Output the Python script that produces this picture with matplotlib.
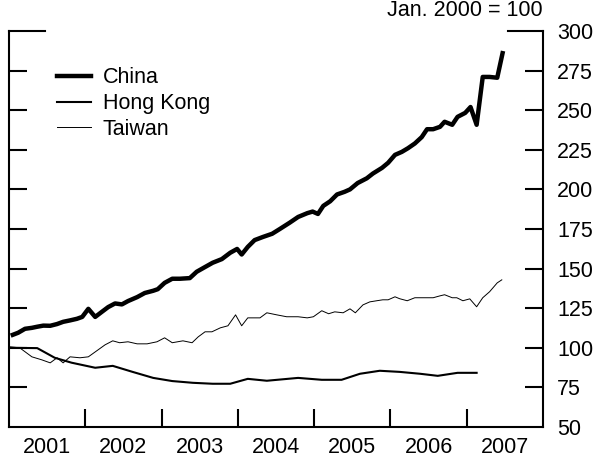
import numpy as np
import matplotlib
matplotlib.use("Agg")
import matplotlib.pyplot as plt

plt.rcParams['font.family'] = ['Liberation Sans', 'DejaVu Sans']

# China, monthly-ish points (decimal year, index)
china_x = [2001.05, 2001.12, 2001.21, 2001.30, 2001.37, 2001.45, 2001.54, 2001.63,
           2001.71, 2001.80, 2001.89, 2001.96, 2002.04, 2002.13, 2002.22, 2002.30,
           2002.39, 2002.48, 2002.56, 2002.68, 2002.78, 2002.89, 2002.95, 2003.04,
           2003.14, 2003.24, 2003.37, 2003.46, 2003.57, 2003.67, 2003.79, 2003.90,
           2003.99, 2004.05, 2004.13, 2004.22, 2004.33, 2004.45, 2004.55, 2004.68,
           2004.79, 2004.91, 2004.98, 2005.05, 2005.12, 2005.21, 2005.30, 2005.40,
           2005.47, 2005.57, 2005.69, 2005.77, 2005.89, 2005.97, 2006.06, 2006.15,
           2006.23, 2006.32, 2006.41, 2006.48, 2006.56, 2006.65, 2006.71, 2006.81,
           2006.88, 2006.98, 2007.05, 2007.13, 2007.21, 2007.30, 2007.40, 2007.47]
china = [108.2, 109.5, 112.0, 112.6, 113.3, 114.0, 113.9, 115.0,
         116.4, 117.3, 118.3, 119.5, 124.6, 119.5, 122.8, 125.7,
         128.0, 127.4, 129.5, 132.0, 134.6, 136.0, 137.0, 141.0,
         143.6, 143.6, 144.0, 148.0, 151.0, 153.7, 156.0, 160.0,
         162.4, 158.9, 163.7, 168.0, 170.0, 172.0, 175.0, 179.0,
         182.6, 185.0, 186.0, 184.5, 189.6, 192.5, 196.8, 198.5,
         200.0, 204.0, 207.0, 210.0, 213.6, 216.8, 221.8, 223.7,
         226.0, 229.0, 233.0, 238.0, 238.0, 239.5, 242.7, 240.8,
         245.8, 248.3, 252.0, 240.8, 271.0, 271.0, 270.5, 286.0]

hk_x = [2001.01, 2001.37, 2001.60, 2001.82, 2002.13, 2002.36, 2002.62, 2002.89,
        2003.14, 2003.41, 2003.67, 2003.90, 2004.13, 2004.38, 2004.79, 2005.10,
        2005.36, 2005.60, 2005.86, 2006.12, 2006.39, 2006.62, 2006.88, 2007.13]
hong_kong = [100.0, 99.8, 93.7, 90.6, 87.4, 88.6, 84.8, 81.0,
             79.0, 77.9, 77.3, 77.3, 80.4, 79.2, 81.0, 79.8,
             79.8, 83.6, 85.5, 84.8, 83.6, 82.3, 84.2, 84.2]

tw_x = [2001.01, 2001.14, 2001.30, 2001.43, 2001.54, 2001.63, 2001.71, 2001.80,
        2001.93, 2002.04, 2002.15, 2002.26, 2002.36, 2002.45, 2002.56, 2002.68,
        2002.81, 2002.94, 2003.04, 2003.14, 2003.28, 2003.40, 2003.48, 2003.57,
        2003.66, 2003.77, 2003.87, 2003.97, 2004.05, 2004.13, 2004.29, 2004.38,
        2004.51, 2004.64, 2004.79, 2004.91, 2004.99, 2005.10, 2005.19, 2005.27,
        2005.38, 2005.47, 2005.54, 2005.64, 2005.73, 2005.82, 2005.90, 2005.97,
        2006.06, 2006.12, 2006.22, 2006.32, 2006.43, 2006.56, 2006.65, 2006.71,
        2006.81, 2006.87, 2006.95, 2007.04, 2007.13, 2007.21, 2007.30, 2007.40,
        2007.46]
taiwan = [100.6, 100.0, 94.3, 92.4, 90.5, 93.7, 90.5, 94.3,
          93.7, 94.3, 98.1, 101.9, 104.4, 103.2, 103.8, 102.5,
          102.5, 103.8, 106.3, 103.2, 104.4, 103.2, 106.9, 110.1,
          110.1, 112.6, 113.9, 120.8, 113.9, 118.9, 118.9, 122.1,
          120.8, 119.6, 119.6, 118.9, 119.6, 123.4, 121.5, 122.7,
          122.1, 124.6, 122.1, 127.1, 129.0, 129.7, 130.3, 130.3,
          132.2, 131.0, 129.7, 131.6, 131.6, 131.6, 132.8, 133.5,
          131.6, 131.6, 129.7, 130.9, 125.9, 131.6, 135.4, 141.0,
          142.9]

years = [2001, 2002, 2003, 2004, 2005, 2006, 2007]
yticks = [50, 75, 100, 125, 150, 175, 200, 225, 250, 275, 300]

fig = plt.figure(figsize=(5.95, 4.61), dpi=100)
ax = fig.add_axes([9 / 595, 1 - 427 / 461, 534 / 595, 396 / 461])

ax.plot(china_x, china, color='black', lw=3.2, label='China')
ax.plot(hk_x, hong_kong, color='black', lw=1.5, label='Hong Kong')
ax.plot(tw_x, taiwan, color='black', lw=0.7, label='Taiwan')

ax.set_xlim(2001, 2008)
ax.set_ylim(50, 300)

for s in ['left', 'bottom', 'right']:
    ax.spines[s].set_linewidth(1.5)
ax.spines['top'].set_visible(False)

# x: tick marks at year boundaries, labels mid-year
ax.set_xticks([y + 1 for y in years[:-1]])
ax.set_xticklabels([])
ax.set_xticks([y + 0.5 for y in years], minor=True)
ax.set_xticklabels([str(y) for y in years], minor=True, fontsize=15.5)
ax.tick_params(axis='x', which='major', direction='in', length=13, width=1.5)
ax.tick_params(axis='x', which='minor', length=0, pad=7)

ax.set_yticks(yticks[1:-1])
ax.set_yticks([50, 300], minor=True)
ax.set_yticklabels([str(v) for v in yticks[1:-1]])
ax.set_yticklabels(['50', '300'], minor=True)
ax.yaxis.set_ticks_position('both')
ax.tick_params(axis='y', which='major', direction='in', length=13, width=1.5,
               left=True, right=True, labelleft=False, labelright=True,
               labelsize=15.5, pad=10)
ax.tick_params(axis='y', which='minor', length=0, left=False, right=True,
               labelleft=False, labelright=True, labelsize=15.5, pad=10)

# longer marks at the top of both scales
tr = ax.get_yaxis_transform()
ax.plot([0, 36 / 534], [300, 300], transform=tr, color='black', lw=1.5, clip_on=False)
ax.plot([1 - 35 / 534, 1], [300, 300], transform=tr, color='black', lw=1.5, clip_on=False)

ax.text(1.0, 1.025, 'Jan. 2000 = 100', transform=ax.transAxes, ha='right',
        va='bottom', fontsize=15.5)

ax.legend(loc='upper left', bbox_to_anchor=(0.073, 0.93), frameon=False,
          fontsize=15.5, handlelength=1.6, handletextpad=0.55, labelspacing=0.22,
          borderaxespad=0)

fig.savefig('out.png', dpi=100)
